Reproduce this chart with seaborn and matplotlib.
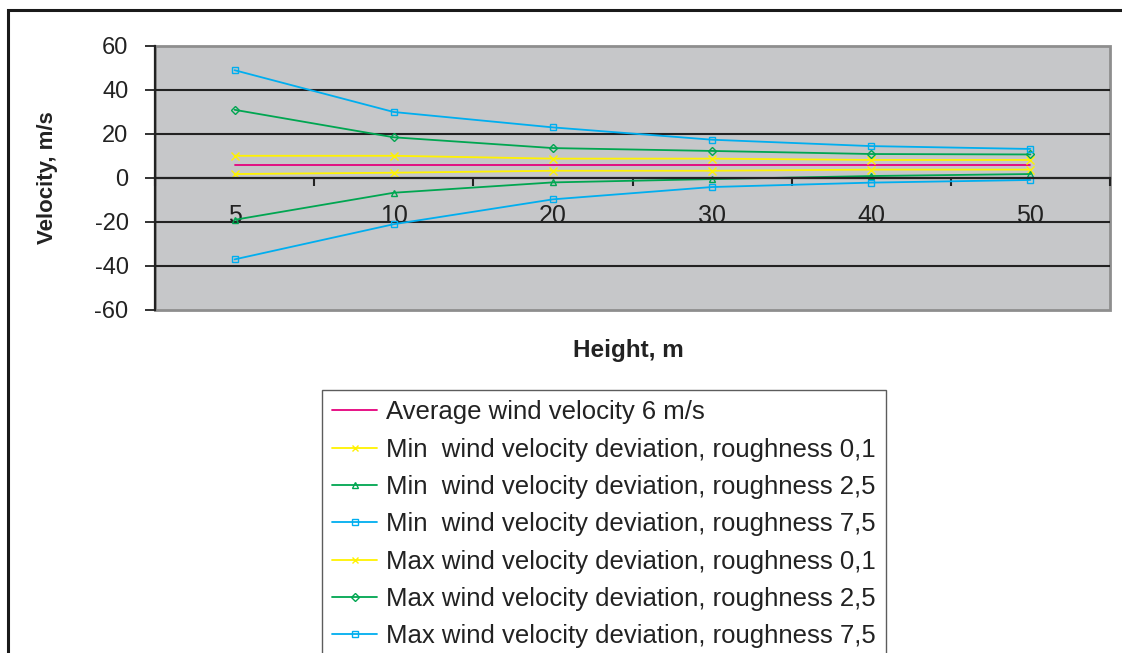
import numpy as np
import pandas as pd
import seaborn as sns
import matplotlib
matplotlib.use("Agg")
import matplotlib.pyplot as plt
from matplotlib.patches import Rectangle

# Heights (categorical axis) and velocity series
heights = ["5", "10", "20", "30", "40", "50"]
avg_velocity = [6, 6, 6, 6, 6, 6]
min_dev_r01 = [1.8, 2.4, 3.3, 3.3, 3.8, 3.8]
min_dev_r25 = [-19.0, -6.7, -2.0, -0.5, 0.9, 1.8]
min_dev_r75 = [-37.0, -21.0, -9.7, -4.1, -2.1, -0.9]
max_dev_r01 = [10.1, 10.1, 8.8, 8.8, 8.2, 8.2]
max_dev_r25 = [31.0, 18.5, 13.6, 12.3, 10.9, 10.7]
max_dev_r75 = [49.0, 30.0, 23.0, 17.4, 14.5, 13.2]

y_ticks = [-60, -40, -20, 0, 20, 40, 60]
grid_levels = [-40, -20, 20, 40]

series = [
    ("Average wind velocity 6 m/s", avg_velocity, "#E5007D", None),
    ("Min  wind velocity deviation, roughness 0,1", min_dev_r01, "#FFF200", "x"),
    ("Min  wind velocity deviation, roughness 2,5", min_dev_r25, "#00A651", "^"),
    ("Min  wind velocity deviation, roughness 7,5", min_dev_r75, "#00AEEF", "s"),
    ("Max wind velocity deviation, roughness 0,1", max_dev_r01, "#FFF200", "x"),
    ("Max wind velocity deviation, roughness 2,5", max_dev_r25, "#00A651", "D"),
    ("Max wind velocity deviation, roughness 7,5", max_dev_r75, "#00AEEF", "s"),
]

sns.set_theme(style="white")
plt.rcParams["font.family"] = ["Liberation Sans", "DejaVu Sans"]

fig = plt.figure(figsize=(11.22, 6.53), dpi=100)
ax = fig.add_axes([155 / 1122, 1 - 310 / 653, (1110 - 155) / 1122, (310 - 46) / 653])
ax.set_facecolor("#C6C7C9")

pos = np.arange(len(heights))
for label, vals, color, marker in series:
    df = pd.DataFrame({"pos": pos, "v": vals})
    kw = dict(color=color, linewidth=1.3, label=label)
    if marker is not None:
        msize = {"x": 6, "D": 4.5}.get(marker, 5)
        kw.update(marker=marker, markersize=msize, markeredgecolor=color,
                  markerfacecolor="none", markeredgewidth=1.0)
    sns.lineplot(data=df, x="pos", y="v", ax=ax, **kw)

if ax.get_legend() is not None:
    ax.get_legend().remove()

for g in grid_levels:
    ax.axhline(g, color="#222222", linewidth=1.5, zorder=1)

ax.set_xlim(-0.5, len(heights) - 0.5)
ax.set_ylim(-60, 60)
ax.set_yticks(y_ticks)
ax.set_yticklabels([str(t) for t in y_ticks], fontsize=17, color="#222222")
ax.tick_params(axis="y", direction="out", length=7, width=1.3, color="#222222", pad=12, left=True)

# category axis crossing at zero: tick marks between categories, labels at centres
ax.spines["bottom"].set_position(("data", 0))
ax.spines["bottom"].set_color("#222222")
ax.spines["bottom"].set_linewidth(1.6)
ax.set_xticks(np.arange(len(heights) + 1) - 0.5)
ax.set_xticklabels([])
ax.set_xticks(pos, minor=True)
ax.set_xticklabels(heights, minor=True, fontsize=18, color="#222222")
ax.tick_params(axis="x", which="major", direction="out", length=6, width=1.5, color="#222222", bottom=True)
ax.tick_params(axis="x", which="minor", length=0, pad=19, bottom=True)

ax.spines["left"].set_color("#222222")
ax.spines["left"].set_linewidth(1.6)
for s in ["top", "right"]:
    ax.spines[s].set_visible(False)
ax.add_patch(Rectangle((0, 0), 1, 1, transform=ax.transAxes, fill=False,
                       edgecolor="#8E8E8E", linewidth=2, clip_on=False, zorder=0.5))

ax.set_xlabel("")
ax.set_ylabel("")
fig.text(48 / 1122, 1 - 178 / 653, "Velocity, m/s", rotation=90, ha="center", va="center",
         fontsize=16, fontweight="bold", color="#222222")
fig.text(628 / 1122, 1 - 350 / 653, "Height, m", ha="center", va="center",
         fontsize=17.5, fontweight="bold", color="#222222")

handles, labels = ax.get_legend_handles_labels()
leg = fig.legend(handles, labels, loc="upper left", bbox_to_anchor=(322 / 1122, 1 - 390 / 653),
                 bbox_transform=fig.transFigure, fontsize=18.5, frameon=True, fancybox=False,
                 edgecolor="#333333", handlelength=1.75, handletextpad=0.35, labelspacing=0.52,
                 borderpad=0.4, borderaxespad=0)
leg.get_frame().set_linewidth(1.0)
for t in leg.get_texts():
    t.set_color("#222222")
for h in leg.legend_handles:
    h.set_markersize(4)

# outer frame of the chart
fig.patches.append(Rectangle((8 / 1122, -0.05), 1.1, 1 - 10 / 653 + 0.05, transform=fig.transFigure,
                             fill=False, edgecolor="#1A1A1A", linewidth=2.2, figure=fig))

fig.savefig("out.png", dpi=100)
